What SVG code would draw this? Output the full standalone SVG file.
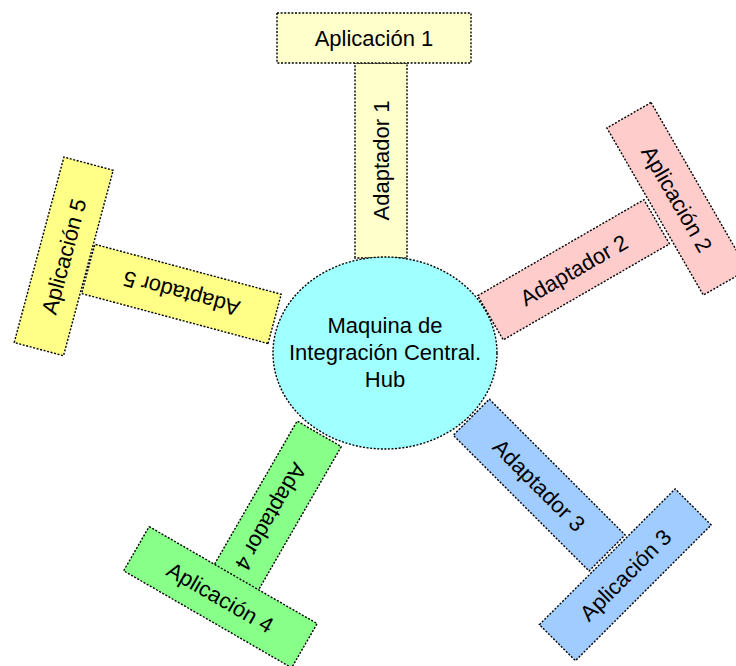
<svg xmlns="http://www.w3.org/2000/svg" width="736" height="666" viewBox="0 0 736 666">
  <style>
    .box { stroke: #000; stroke-width: 1.4; stroke-dasharray: 2 1.6; }
    .lbl { font-family: "Liberation Sans", Arial, sans-serif; font-size: 22px; fill: #000; text-anchor: middle; }
    .c1 { fill: #ffffcc; }
    .c2 { fill: #ffcccc; }
    .c3 { fill: #a0ccff; }
    .c4 { fill: #88ff88; }
    .c5 { fill: #ffff88; }
    .hub { fill: #a0ffff; }
  </style>
  <rect width="736" height="666" fill="#fff"/>

  <!-- adapters (drawn under the hub and the applications) -->
  <g id="adaptador1" transform="translate(381,160.5) rotate(-90)">
    <rect class="box c1" x="-97.5" y="-26" width="195" height="52"/>
    <text class="lbl" y="8">Adaptador 1</text>
  </g>
  <g id="adaptador2" transform="translate(573.6,269.8) rotate(-30)">
    <rect class="box c2" x="-96" y="-25.5" width="192" height="51"/>
    <text class="lbl" y="8">Adaptador 2</text>
  </g>
  <g id="adaptador3" transform="translate(539.2,485.1) rotate(45)">
    <rect class="box c3" x="-96" y="-25.5" width="192" height="51"/>
    <text class="lbl" y="8">Adaptador 3</text>
  </g>
  <g id="adaptador4" transform="translate(271.2,517) rotate(120)">
    <rect class="box c4" x="-96" y="-25.5" width="192" height="51"/>
    <text class="lbl" y="8">Adaptador 4</text>
  </g>
  <g id="adaptador5" transform="translate(181.4,293.9) rotate(195)">
    <rect class="box c5" x="-96.5" y="-25.5" width="193" height="51"/>
    <text class="lbl" y="8">Adaptador 5</text>
  </g>

  <!-- applications -->
  <g id="aplicacion1" transform="translate(374,38)">
    <rect class="box c1" x="-97" y="-25" width="194" height="50"/>
    <text class="lbl" y="8">Aplicación 1</text>
  </g>
  <g id="aplicacion2" transform="translate(677.2,198.8) rotate(60)">
    <rect class="box c2" x="-96.5" y="-25.5" width="193" height="51"/>
    <text class="lbl" y="8">Aplicación 2</text>
  </g>
  <g id="aplicacion3" transform="translate(625.3,574.8) rotate(-45)">
    <rect class="box c3" x="-96" y="-25.5" width="192" height="51"/>
    <text class="lbl" y="8">Aplicación 3</text>
  </g>
  <g id="aplicacion4" transform="translate(220.4,597.2) rotate(30)">
    <rect class="box c4" x="-97" y="-25.5" width="194" height="51"/>
    <text class="lbl" y="8">Aplicación 4</text>
  </g>
  <g id="aplicacion5" transform="translate(63.7,256.4) rotate(-75)">
    <rect class="box c5" x="-96" y="-25.5" width="192" height="51"/>
    <text class="lbl" y="8">Aplicación 5</text>
  </g>

  <!-- central hub -->
  <g id="hub">
    <ellipse class="box hub" cx="385" cy="353" rx="112" ry="96"/>
    <text class="lbl" x="385" y="333">Maquina de</text>
    <text class="lbl" x="385" y="360">Integración Central.</text>
    <text class="lbl" x="385" y="387">Hub</text>
  </g>
</svg>
